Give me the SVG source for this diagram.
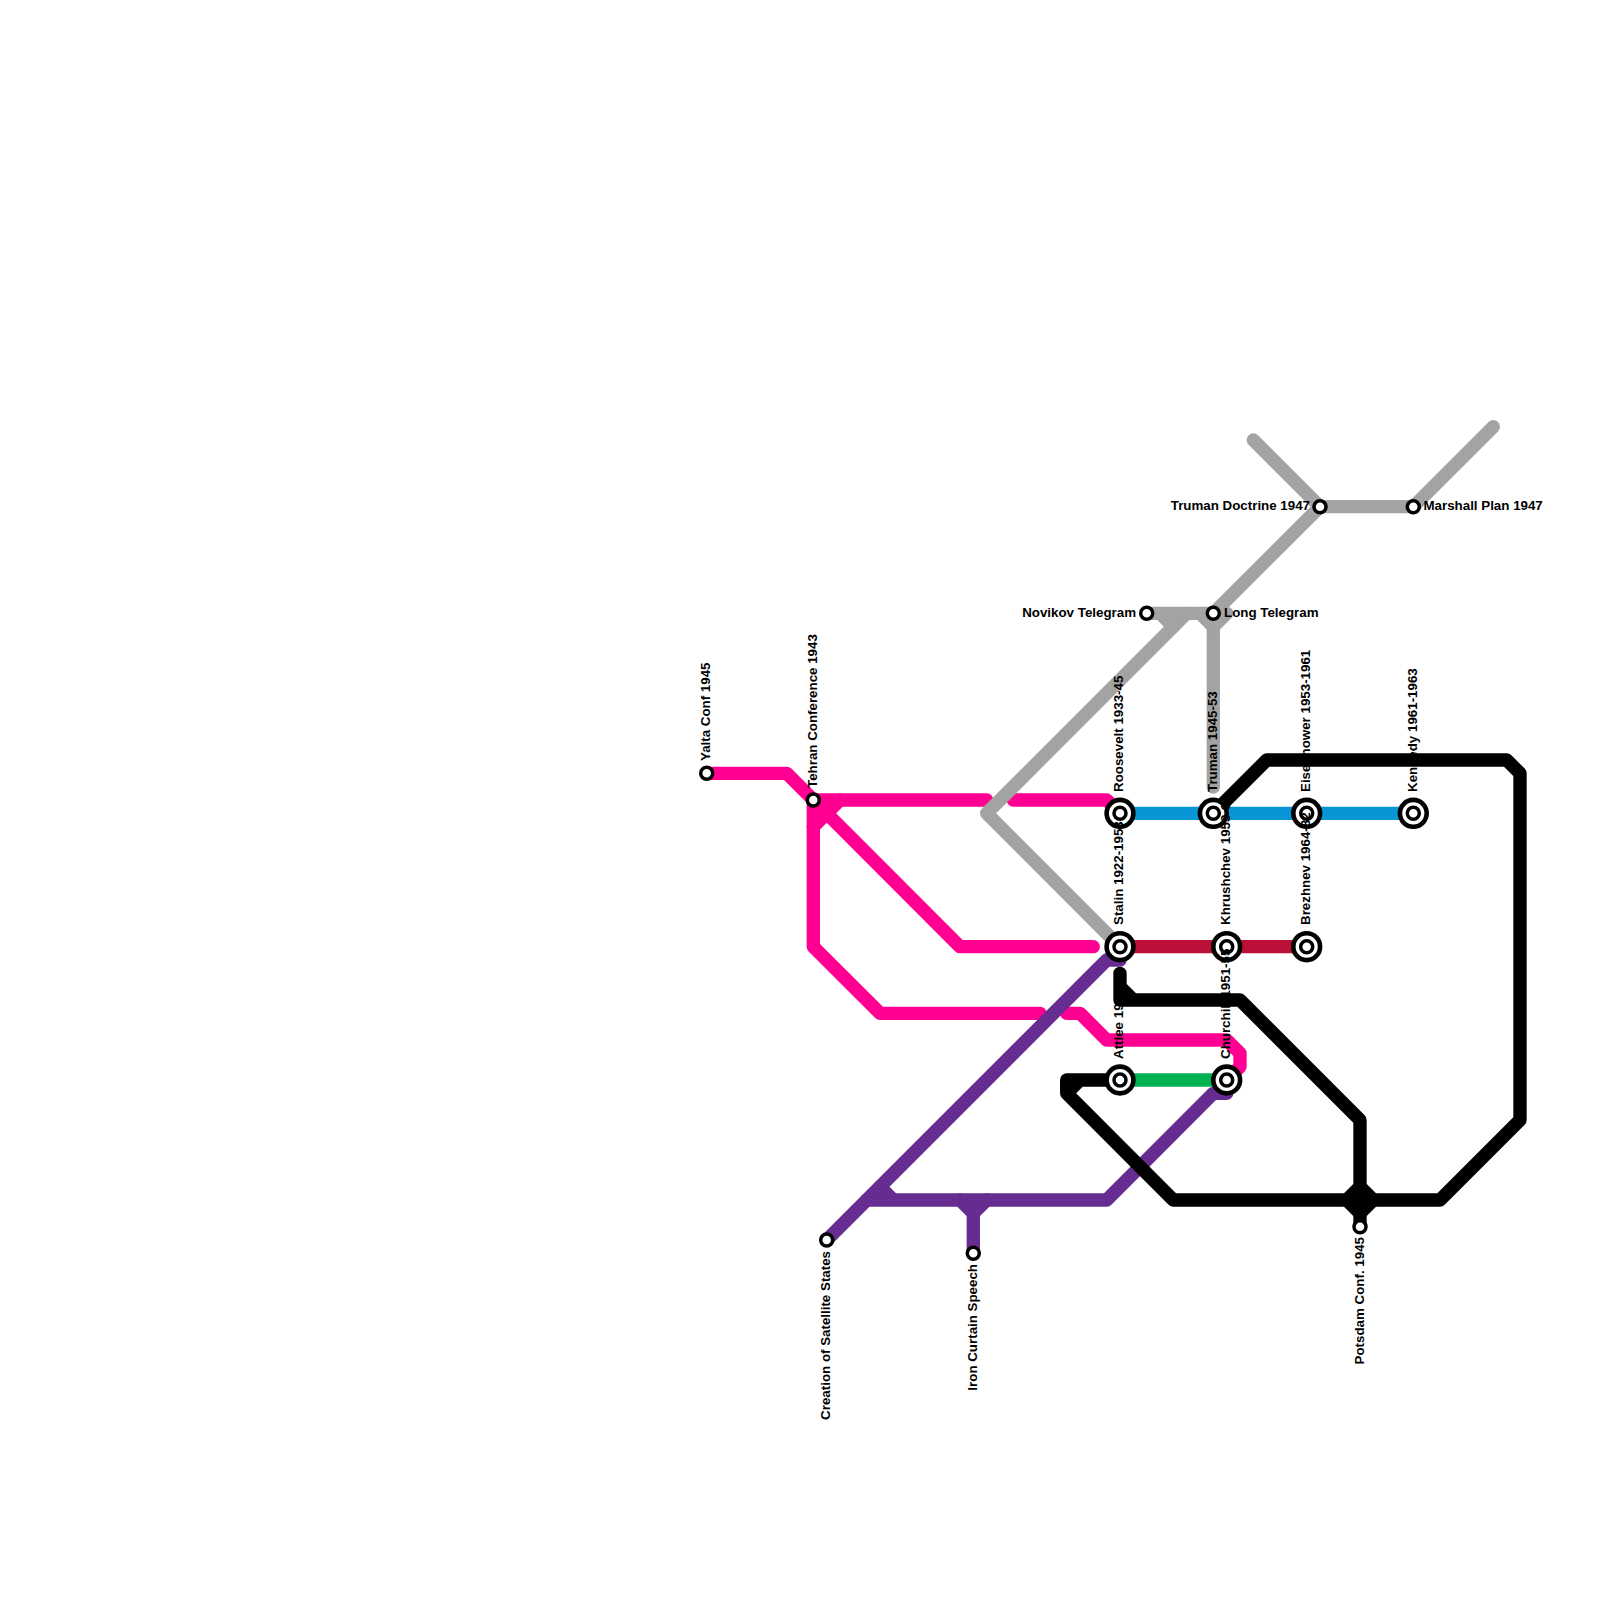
<svg xmlns="http://www.w3.org/2000/svg" width="1600" height="1600" viewBox="0 0 1600 1600">
<style>
.l{fill:none;stroke-width:13.33;stroke-linecap:round;stroke-linejoin:round}
.pink{stroke:#ff0093}.gray{stroke:#a3a3a3}.black{stroke:#000}.purple{stroke:#662c90}.blue{stroke:#0896d7}.red{stroke:#bd1038}.green{stroke:#00b251}
.o{fill:#fff;stroke:#000;stroke-width:4.6}
.i{fill:#fff;stroke:#000;stroke-width:3.5}
text{font-family:"Liberation Sans",Arial,sans-serif;font-weight:bold;font-size:13.33px;fill:#000}
.e{text-anchor:end}
</style>
<rect width="1600" height="1600" fill="#fff"/>
<g id="connectors">
<path class="l blue" d="M1120 813.3H1413.3"/>
<path class="l red" d="M1120 946.7H1306.7"/>
<path class="l green" d="M1120 1080H1226.7"/>
<path class="l pink" d="M706.7 773.3H786.7L960 946.7H1093.3"/>
<path class="l pink" d="M813.3 800H986.7M1013.3 800H1106.7L1120 813.3"/>
<path class="l pink" d="M813.3 800V946.7L880 1013.3H1040M1066.7 1013.3H1080L1106.7 1040H1226.7L1240 1053.3V1066.7L1226.7 1080"/>
<path class="l pink" d="M840 800L813.3 826.7"/>
<path class="l gray" d="M1120 946.7L986.7 813.3L1186.7 613.3"/>
<path class="l gray" d="M1146.7 613.3H1213.3M1160 613.3L1173.3 626.7M1200 613.3L1213.3 626.7V787"/>
<path class="l gray" d="M1253.3 440L1320 506.7H1413.3L1493.3 426.7M1320 506.7L1213.3 613.3H1226.7L1213.3 626.7"/>
<path class="l purple" d="M826.7 1240L1106.7 960H1120"/>
<path class="l purple" d="M866.7 1200H1106.7L1213.3 1093.3H1226.7L1226.7 1080M880 1186.7L893.3 1200"/>
<path class="l purple" d="M960 1200L973.3 1213.3V1253.3M986.7 1200L973.3 1213.3"/>
<path class="l black" d="M1213.3 813.3L1266.7 760H1506.7L1520 773.3V1120L1440 1200H1173.3L1066.7 1093.3V1080H1120M1080 1080L1066.7 1093.3"/>
<path class="l black" d="M1120 973.3V1000H1240L1360 1120V1226.7M1120 986.7L1133.3 1000"/>
<path d="M1360 1186.7L1346.7 1200L1360 1213.3L1373.3 1200Z" class="l black" style="fill:#000"/>
</g>
<g id="yalta"><circle class="i" cx="706.7" cy="773.3" r="6"/><text transform="translate(710 761) rotate(-90)">Yalta Conf 1945</text></g>
<g id="tehran"><circle class="i" cx="813.3" cy="800" r="6"/><text transform="translate(816.7 788) rotate(-90)">Tehran Conference 1943</text></g>
<g id="creation"><circle class="i" cx="826.7" cy="1240" r="6"/><text class="e" transform="translate(830 1251) rotate(-90)">Creation of Satellite States</text></g>
<g id="iron"><circle class="i" cx="973.3" cy="1253.3" r="6"/><text class="e" transform="translate(976.7 1264) rotate(-90)">Iron Curtain Speech</text></g>
<g id="potsdam"><circle class="i" cx="1360" cy="1226.7" r="6"/><text class="e" transform="translate(1363.7 1237) rotate(-90)">Potsdam Conf. 1945</text></g>
<g id="novikov"><circle class="i" cx="1146.7" cy="613.3" r="6"/><text class="e" x="1136" y="616.6">Novikov Telegram</text></g>
<g id="long"><circle class="i" cx="1213.3" cy="613.3" r="6"/><text x="1224" y="616.6">Long Telegram</text></g>
<g id="doctrine"><circle class="i" cx="1320" cy="506.7" r="6"/><text class="e" x="1310" y="510">Truman Doctrine 1947</text></g>
<g id="marshall"><circle class="i" cx="1413.3" cy="506.7" r="6"/><text x="1423.5" y="510">Marshall Plan 1947</text></g>
<g id="roosevelt"><circle class="o" cx="1120" cy="813.3" r="13.4"/><circle class="i" cx="1120" cy="813.3" r="6"/><text transform="translate(1123 792) rotate(-90)">Roosevelt 1933-45</text></g>
<g id="truman"><circle class="o" cx="1213.3" cy="813.3" r="13.4"/><circle class="i" cx="1213.3" cy="813.3" r="6"/><text transform="translate(1216.7 792) rotate(-90)">Truman 1945-53</text></g>
<g id="eisenhower"><circle class="o" cx="1306.7" cy="813.3" r="13.4"/><circle class="i" cx="1306.7" cy="813.3" r="6"/><text transform="translate(1310 792) rotate(-90)">Eisenhower 1953-1961</text></g>
<g id="kennedy"><circle class="o" cx="1413.3" cy="813.3" r="13.4"/><circle class="i" cx="1413.3" cy="813.3" r="6"/><text transform="translate(1416.7 792) rotate(-90)">Kennedy 1961-1963</text></g>
<g id="stalin"><circle class="o" cx="1120" cy="946.7" r="13.4"/><circle class="i" cx="1120" cy="946.7" r="6"/><text transform="translate(1123 925) rotate(-90)">Stalin 1922-1953</text></g>
<g id="khrushchev"><circle class="o" cx="1226.7" cy="946.7" r="13.4"/><circle class="i" cx="1226.7" cy="946.7" r="6"/><text transform="translate(1230 925) rotate(-90)">Khrushchev 1953-64</text></g>
<g id="brezhnev"><circle class="o" cx="1306.7" cy="946.7" r="13.4"/><circle class="i" cx="1306.7" cy="946.7" r="6"/><text transform="translate(1310 925) rotate(-90)">Brezhnev 1964-82</text></g>
<g id="attlee"><circle class="o" cx="1120" cy="1080" r="13.4"/><circle class="i" cx="1120" cy="1080" r="6"/><text transform="translate(1123 1059) rotate(-90)">Attlee 1945-51</text></g>
<g id="churchill"><circle class="o" cx="1226.7" cy="1080" r="13.4"/><circle class="i" cx="1226.7" cy="1080" r="6"/><text transform="translate(1230 1059) rotate(-90)">Churchill 1951-55</text></g>
</svg>
